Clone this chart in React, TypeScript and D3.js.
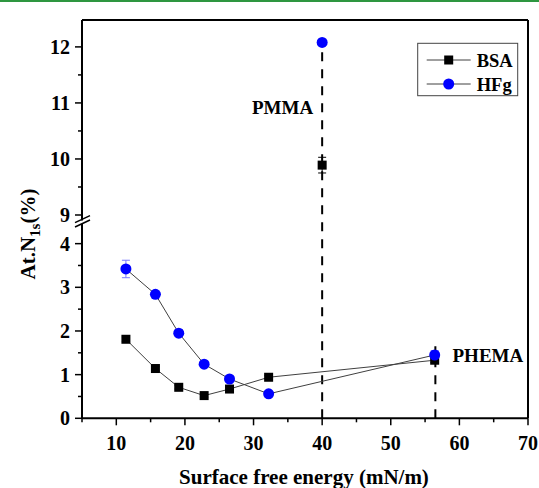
import React from "react";
import * as d3 from "d3";

const xVals = [11.4, 15.7, 19.1, 22.8, 26.5, 32.2, 40.0, 56.4];
const bsaVals = [1.81, 1.14, 0.71, 0.52, 0.67, 0.94, 9.89, 1.33];
const bsaErr = [0.05, 0.05, 0.04, 0.04, 0.04, 0.04, 0.14, 0.05];
const hfgVals = [3.42, 2.84, 1.95, 1.24, 0.9, 0.56, 12.08, 1.45];
const hfgErr = [0.2, 0.05, 0.08, 0.05, 0.04, 0.04, 0.05, 0.1];
const xTicks = [10, 20, 30, 40, 50, 60, 70];
const xMinor = [5, 15, 25, 35, 45, 55, 65];
const yLowTicks = [0, 1, 2, 3, 4];
const yLowMinor = [0.5, 1.5, 2.5, 3.5];
const yUpTicks = [9, 10, 11, 12];
const yUpMinor = [9.5, 10.5, 11.5];
const lineIdx = [0, 1, 2, 3, 4, 5, 7];
const dashedLines = [
  { x: 40.0, top: 12.08, label: "PMMA" },
  { x: 56.5, top: 1.65, label: "PHEMA" },
];

const FONT = "'Liberation Serif', 'Times New Roman', serif";

export default function App() {
  const x = d3.scaleLinear().domain([5, 70]).range([82, 528]);
  const yLow = d3.scaleLinear().domain([0, 4.45]).range([418.3, 224]);
  const yUp = d3.scaleLinear().domain([8.9, 12.48]).range([220.6, 20]);
  const y = (v: number) => (v < 6 ? yLow(v) : yUp(v));
  const left = x(5);
  const right = x(70);
  const bottom = yLow(0);
  const top = yUp(12.48);

  const pathFor = (vals: number[]) =>
    d3
      .line<number>()
      .x((i) => x(xVals[i]))
      .y((i) => y(vals[i]))(lineIdx) || "";

  const errBar = (i: number, vals: number[], errs: number[], color: string, key: string) => {
    const cx = x(xVals[i]);
    const y1 = y(vals[i] + errs[i]);
    const y2 = y(vals[i] - errs[i]);
    return (
      <g key={key} stroke={color} strokeWidth={1}>
        <line x1={cx} x2={cx} y1={y1} y2={y2} />
        <line x1={cx - 4} x2={cx + 4} y1={y1} y2={y1} />
        <line x1={cx - 4} x2={cx + 4} y1={y2} y2={y2} />
      </g>
    );
  };

  return (
    <svg
      width={539}
      height={488}
      style={{ position: "absolute", left: 0, top: 0, background: "#fff" }}
      fontFamily={FONT}
    >
      <rect x={0} y={0} width={539} height={488} fill="#fff" />
      <line x1={0} x2={539} y1={1} y2={1} stroke="#2e9640" strokeWidth={2} />

      {/* frame */}
      <line x1={left} x2={right} y1={top} y2={top} stroke="#000" strokeWidth={2} />
      <line x1={right} x2={right} y1={top} y2={bottom} stroke="#000" strokeWidth={2} />
      <line x1={left} x2={right} y1={bottom} y2={bottom} stroke="#000" strokeWidth={2} />
      <line x1={left} x2={left} y1={top} y2={yUp(8.9)} stroke="#000" strokeWidth={2} />
      <line x1={left} x2={left} y1={yLow(4.45)} y2={bottom} stroke="#000" strokeWidth={2} />
      {/* break marks */}
      <g stroke="#000" strokeWidth={1.5}>
        <line x1={left - 7} x2={left + 8} y1={yUp(8.9) + 2} y2={yUp(8.9) - 5} />
        <line x1={left - 7} x2={left + 8} y1={yLow(4.45) + 3} y2={yLow(4.45) - 4} />
      </g>

      {/* ticks */}
      <g stroke="#000" strokeWidth={1.5}>
        {xTicks.map((t) => (
          <line key={"xt" + t} x1={x(t)} x2={x(t)} y1={bottom} y2={bottom + 7} />
        ))}
        {xMinor.map((t) => (
          <line key={"xm" + t} x1={x(t)} x2={x(t)} y1={bottom} y2={bottom + 4} />
        ))}
        {yLowTicks.map((t) => (
          <line key={"ylt" + t} x1={left - 7} x2={left} y1={yLow(t)} y2={yLow(t)} />
        ))}
        {yLowMinor.map((t) => (
          <line key={"ylm" + t} x1={left - 4} x2={left} y1={yLow(t)} y2={yLow(t)} />
        ))}
        {yUpTicks.map((t) => (
          <line key={"yut" + t} x1={left - 7} x2={left} y1={yUp(t)} y2={yUp(t)} />
        ))}
        {yUpMinor.map((t) => (
          <line key={"yum" + t} x1={left - 4} x2={left} y1={yUp(t)} y2={yUp(t)} />
        ))}
      </g>
      <g fontSize={20} fontWeight="bold" fill="#000">
        {xTicks.map((t) => (
          <text key={"xl" + t} x={x(t)} y={bottom + 32} textAnchor="middle">
            {t}
          </text>
        ))}
        {yLowTicks.map((t) => (
          <text key={"yll" + t} x={left - 12} y={yLow(t) + 7} textAnchor="end">
            {t}
          </text>
        ))}
        {yUpTicks.map((t) => (
          <text key={"yul" + t} x={left - 12} y={yUp(t) + 7} textAnchor="end">
            {t}
          </text>
        ))}
      </g>

      {/* dashed lines */}
      {dashedLines.map((d) => (
        <line
          key={"d" + d.label}
          x1={x(d.x)}
          x2={x(d.x)}
          y1={bottom}
          y2={y(d.top)}
          stroke="#000"
          strokeWidth={2}
          strokeDasharray="9,8"
        />
      ))}

      {/* series lines */}
      <path d={pathFor(bsaVals)} fill="none" stroke="#404040" strokeWidth={1} />
      <path d={pathFor(hfgVals)} fill="none" stroke="#404040" strokeWidth={1} />

      {/* error bars */}
      {xVals.map((_, i) => errBar(i, bsaVals, bsaErr, "#000", "be" + i))}
      {xVals.map((_, i) => errBar(i, hfgVals, hfgErr, "#7a7aff", "he" + i))}

      {/* markers */}
      {xVals.map((xv, i) => (
        <rect
          key={"bm" + i}
          x={x(xv) - 4.5}
          y={y(bsaVals[i]) - 4.5}
          width={9}
          height={9}
          fill="#000"
        />
      ))}
      {xVals.map((xv, i) => (
        <circle key={"hm" + i} cx={x(xv)} cy={y(hfgVals[i])} r={5.5} fill="#0000ff" />
      ))}

      {/* annotations */}
      <g fontSize={19} fontWeight="bold" fill="#000">
        <text x={x(40) - 9} y={114} textAnchor="end">
          PMMA
        </text>
        <text x={452.5} y={361.5}>
          PHEMA
        </text>
      </g>

      {/* legend */}
      <rect x={417.7} y={43.3} width={100} height={52.4} fill="#fff" stroke="#444" strokeWidth={1} />
      <g>
        <line x1={426.7} x2={470.7} y1={60} y2={60} stroke="#404040" strokeWidth={1} />
        <rect x={448.7 - 4.5} y={55.5} width={9} height={9} fill="#000" />
        <line x1={426.7} x2={470.7} y1={84} y2={84} stroke="#404040" strokeWidth={1} />
        <circle cx={448.7} cy={84} r={5.5} fill="#0000ff" />
        <text x={476.7} y={66.5} fontSize={18.5} fontWeight="bold">
          BSA
        </text>
        <text x={476.7} y={90.5} fontSize={18.5} fontWeight="bold">
          HFg
        </text>
      </g>

      {/* axis titles */}
      <text
        transform={`translate(35,234) rotate(-90)`}
        textAnchor="middle"
        fontSize={21}
        fontWeight="bold"
      >
        At.N<tspan fontSize={15} dy={5}>1s</tspan>
        <tspan dy={-5}>(%)</tspan>
      </text>
      <text x={304} y={484} textAnchor="middle" fontSize={21} fontWeight="bold">
        Surface free energy (mN/m)
      </text>
    </svg>
  );
}
